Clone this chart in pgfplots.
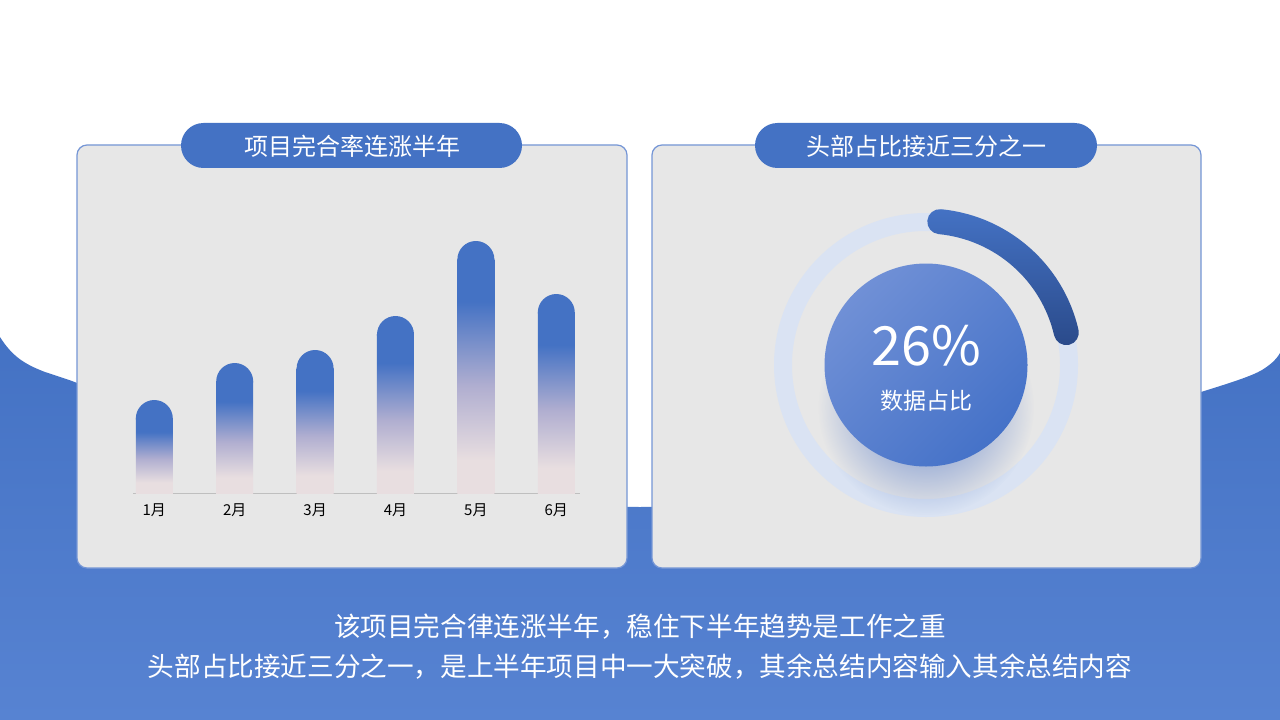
\documentclass[border=0pt]{standalone}
\usepackage{pgfplots}
\pgfplotsset{compat=1.18}
\usepackage{pgfplotstable}
\usepackage{fontspec}
\setmainfont{Noto Sans CJK SC}
\usetikzlibrary{fadings}

\definecolor{mainblue}{HTML}{4472C4}
\definecolor{wavebot}{HTML}{5783D2}
\definecolor{panelgray}{HTML}{E7E7E7}
\definecolor{panelline}{HTML}{7596D6}
\definecolor{ringblue}{HTML}{DAE3F3}
\definecolor{arcdark}{HTML}{2A4A8A}
\definecolor{arcmid}{HTML}{3F69B8}
\definecolor{disclight}{HTML}{7090D6}
\definecolor{discmid}{HTML}{4A77CB}
\definecolor{discbot}{HTML}{4572C8}
\definecolor{shadowblue}{HTML}{5A7DC8}
\definecolor{barbot}{HTML}{E8DEE0}
\definecolor{barmid}{HTML}{B0AED0}
\definecolor{basegray}{HTML}{BFBFBF}

% bottom -> top (bar body without its round cap)
\pgfdeclareverticalshading{barfade}{100bp}{color(0bp)=(barbot); color(32bp)=(barbot); color(48bp)=(barmid); color(66bp)=(mainblue); color(100bp)=(mainblue)}
\tikzfading[name=softshadow, inner color=transparent!5, outer color=transparent!100]

% upper half disc, used as the round top of each bar
\pgfdeclareplotmark{topcap}{%
  \pgfpathmoveto{\pgfqpoint{-\pgfplotmarksize}{-1pt}}%
  \pgfpathlineto{\pgfqpoint{-\pgfplotmarksize}{0pt}}%
  \pgfpatharc{180}{0}{\pgfplotmarksize}%
  \pgfpathlineto{\pgfqpoint{\pgfplotmarksize}{-1pt}}%
  \pgfpathclose
  \pgfusepathqfill}

% monthly completion (bar heights)
\pgfplotstableread{
m v
1 93
2 130
3 143
4 177
5 252
6 199
}\monthdata

\begin{document}
\begin{tikzpicture}[x=1bp,y=-1bp]
\useasboundingbox (0,0) rectangle (1280,720);
\fill[white] (0,0) rectangle (1280,720);

% background wave
\shade[top color=mainblue, bottom color=wavebot]
  (0,337) .. controls (12,356) and (24,364) .. (45,372)
  .. controls (60,377) and (70,380) .. (77,383)
  .. controls (300,465) and (480,507) .. (640,507)
  .. controls (800,507) and (990,460) .. (1201,392)
  .. controls (1230,383) and (1252,376) .. (1262,370)
  .. controls (1270,365) and (1276,360) .. (1280,353)
  -- (1280,720) -- (0,720) -- cycle;

% panels
\foreach \xa/\xb in {77/627, 652/1201}
  \draw[fill=panelgray, draw=panelline, line width=1.2bp, rounded corners=10bp] (\xa,145) rectangle (\xb,568);

% title pills
\fill[mainblue, rounded corners=22.5bp] (181,123) rectangle (522,168);
\fill[mainblue, rounded corners=22.5bp] (755,123) rectangle (1097,168);
\node[white, font=\fontsize{24bp}{28bp}\selectfont] at (352,146) {项目完合率连涨半年};
\node[white, font=\fontsize{24bp}{28bp}\selectfont] at (926,146) {头部占比接近三分之一};

% bar chart
\begin{axis}[
    at={(133bp,-493bp)}, anchor=south west,
    scale only axis, width=447.4bp, height=270bp,
    xmin=0.735, xmax=6.3, ymin=0, ymax=270,
    axis x line*=bottom, axis y line=none,
    x axis line style={draw=basegray, line width=0.9bp, -},
    xtick={1,...,6},
    xticklabels={1月,2月,3月,4月,5月,6月},
    major tick length=0pt,
    xticklabel style={font=\fontsize{15bp}{18bp}\selectfont, text=black, inner sep=0pt, anchor=center, yshift=-17bp},
]
% one plot per bar so that each bar gets its own gradient
\pgfplotsinvokeforeach{1,...,6}{
  \addplot[ybar, bar width=37bp, draw=none, shade, shading=barfade,
           restrict x to domain=#1:#1]
    table[x=m, y expr=\thisrow{v}-18.5] {\monthdata};
}
\addplot[only marks, mark=topcap, mark size=18.5bp, mark options={fill=mainblue, draw=none}]
  table[x=m, y expr=\thisrow{v}-18.5] {\monthdata};
\end{axis}

% donut (share 26%)
\begin{axis}[
    at={(926bp,-365bp)}, anchor=center,
    scale only axis, width=320bp, height=320bp,
    xmin=-160, xmax=160, ymin=-160, ymax=160,
    hide axis, clip=false,
]
\draw[ringblue, line width=18bp] (axis cs:0,0) circle[radius=143bp];
\fill[shadowblue, path fading=softshadow] (axis cs:0,-42) circle[radius=108bp];
\shade[top color=disclight, middle color=discmid, bottom color=discbot, shading angle=45]
  (axis cs:0,0) circle[radius=101.5bp];
\shade[top color=mainblue, middle color=arcmid, bottom color=arcdark]
  (axis cs:14.98,155.78) arc[start angle=84.5, end angle=13, radius=156.5bp]
  arc[start angle=13, end angle=-167, radius=12.5bp]
  arc[start angle=13, end angle=84.5, radius=131.5bp]
  arc[start angle=264.5, end angle=84.5, radius=12.5bp] -- cycle;
\end{axis}

\node[white, font=\fontsize{54bp}{60bp}\selectfont] at (926,346) {26\%};
\node[white, font=\fontsize{23bp}{26bp}\selectfont] at (926,401) {数据占比};

% summary text
\node[white, font=\fontsize{26.6bp}{32bp}\selectfont] at (640,627) {该项目完合律连涨半年，稳住下半年趋势是工作之重};
\node[white, font=\fontsize{26.6bp}{32bp}\selectfont] at (640,667) {头部占比接近三分之一，是上半年项目中一大突破，其余总结内容输入其余总结内容};
\end{tikzpicture}
\end{document}
